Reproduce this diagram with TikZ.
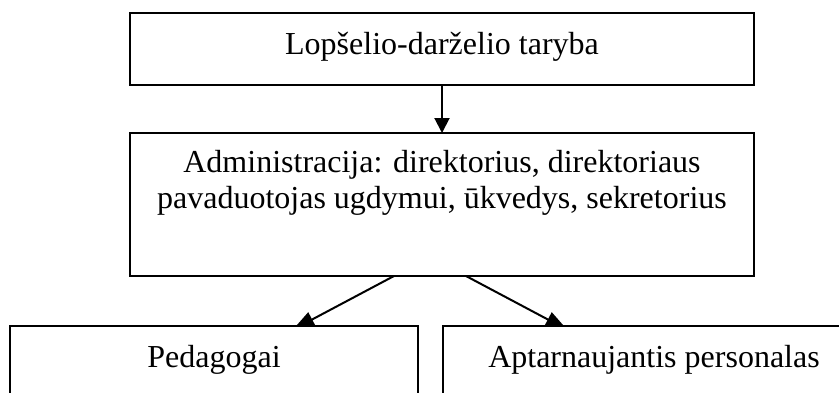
\documentclass[tikz,border=0pt]{standalone}
\usepackage{fontspec}
\setmainfont{Liberation Serif}
\usetikzlibrary{arrows.meta}
\pgfdeclarelayer{bg}
\pgfsetlayers{bg,main}
\begin{document}
\begin{tikzpicture}[x=1pt,y=-1pt,
  box/.style={draw=black, fill=white, line width=1.6pt, inner sep=0pt, outer sep=0pt},
  lbl/.style={font=\fontsize{32}{36}\selectfont, inner sep=0pt, anchor=base},
  conn/.style={draw=black, line width=2pt},
  ]
\useasboundingbox (0,0) rectangle (839,392);
\clip (0,0) rectangle (839,392);
\node[box, minimum width=624pt, minimum height=72pt] (top) at (442,49) {};
\node[box, minimum width=624pt, minimum height=143pt] (adm) at (442,204.5) {};
\node[box, minimum width=408pt, minimum height=100pt] (ped) at (214,376) {};
\node[box, minimum width=422pt, minimum height=100pt] (apt) at (654,376) {};
\node[lbl] (ttop) at (442,54.7) {Lopšelio-darželio taryba};
\node[lbl, align=center] (tadm) at (442,208.5) {Administracija: direktorius, direktoriaus\\pavaduotojas ugdymui, ūkvedys, sekretorius};
\node[lbl] (tped) at (214,367) {Pedagogai};
\node[lbl] (tapt) at (654,367) {Aptarnaujantis personalas};
\coordinate (s1) at (394,276);
\coordinate (e1) at (292.7,329.8);
\coordinate (s2) at (466,276);
\coordinate (e2) at (567.3,329.8);
\begin{pgfonlayer}{bg}
\draw[conn, -{Triangle[length=15pt,width=15pt]}] (top.south) -- (adm.north);
\draw[conn, -{Triangle[length=22pt,width=16pt]}] (s1) -- (e1);
\draw[conn, -{Triangle[length=22pt,width=16pt]}] (s2) -- (e2);
\end{pgfonlayer}
\end{tikzpicture}
\end{document}
